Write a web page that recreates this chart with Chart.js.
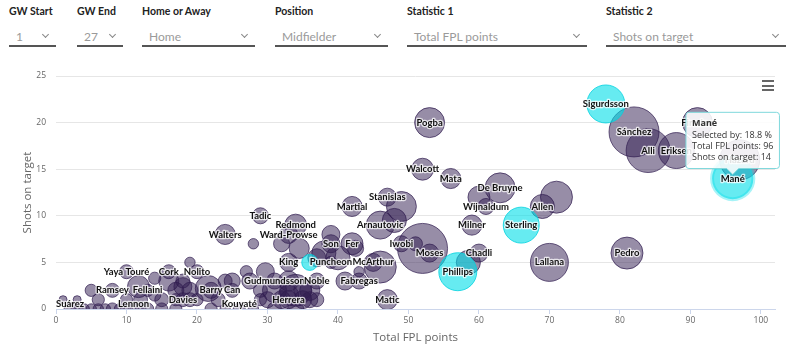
<!DOCTYPE html>
<html>
<head>
<meta charset="utf-8">
<script src="https://cdn.jsdelivr.net/npm/chart.js@4.4.1/dist/chart.umd.min.js"></script>
<style>
  body { margin: 0; background: #fff; font-family: Lato, "Open Sans", sans-serif; }
  #wrap { position: relative; width: 800px; height: 360px; overflow: hidden; }
  .ctl { position: absolute; top: 0; }
  .ctl .lbl { position: absolute; top: 5px; left: 0; font-size: 10.5px; font-weight: bold; color: #222; white-space: nowrap; }
  .ctl .sel { position: absolute; top: 28px; left: 0; right: 0; height: 17px; border-bottom: 2px solid #555; }
  .ctl .val { position: absolute; left: 7px; top: 1px; font-size: 12px; color: #9a9a9a; white-space: nowrap; }
  .ctl .chev { position: absolute; right: 8px; top: 4px; width: 4px; height: 4px;
               border-right: 1px solid #888; border-bottom: 1px solid #888; transform: rotate(45deg); }
  #menu { position: absolute; left: 762px; top: 80px; width: 12px; }
  #menu div { height: 2px; background: #666; margin-bottom: 2.5px; }
  canvas { position: absolute; left: 0; top: 60px; }
</style>
</head>
<body>
<div id="wrap">
  <div id="controls"></div>
  <div id="menu"><div></div><div></div><div></div></div>
  <canvas id="bubbleChart" width="800" height="300"></canvas>
</div>
<script>
// dropdowns above the chart
const controlLabels = ['GW Start', 'GW End', 'Home or Away', 'Position', 'Statistic 1', 'Statistic 2'];
const controlValues = ['1', '27', 'Home', 'Midfielder', 'Total FPL points', 'Shots on target'];
const controlLeft = [9, 77, 142, 275, 407, 606];
const controlWidth = [47, 46, 113, 113, 180, 180];

// players (x = total FPL points, y = shots on target, selected by %)
const names = [
  'Suárez', 'Ramsey', 'Yaya Touré', 'Lennon', 'Fellaini', 'Cork', 'Nolito', 'Davies', 'Barry', 'Can',
  'Kouyaté', 'Gudmundsson', 'Noble', 'Herrera', 'King', 'Puncheon', 'Walters', 'Tadic', 'Redmond', 'Ward-Prowse',
  'Son', 'Fer', 'Martial', 'Stanislas', 'Arnautovic', 'McArthur', 'Fabregas', 'Matic', 'Iwobi', 'Moses',
  'Pogba', 'Walcott', 'Mata', 'De Bruyne', 'Wijnaldum', 'Milner', 'Chadli', 'Allen', 'Lallana', 'Pedro',
  'Sánchez', 'Alli', 'Eriksen', 'Firmino', 'Hazard',
  '', '', '', '', '', '', '', '', '', '',
  '', '', '', '', '', '', '', '', '', '',
  '', '', '', '', '', '', '', '', '', '',
  '', '', '', '', '', '', '', '', '', '',
  '', '', '', '', '', '', '', '', '', '',
  '', '', '', '', '', '', '', '', '',
  '', '', '', '', '', '', '', '', '', '',
  '', '', '', '', '',
  'Phillips', 'Sterling', 'Sigurdsson', 'Mané', ''
];
const points = [
  2, 8, 10, 11, 13, 16, 20, 18, 22, 25,
  26, 31, 37, 33, 33, 39, 24, 29, 34, 33,
  39, 42, 42, 47, 46, 45, 43, 47, 49, 53,
  53, 52, 56, 63, 61, 59, 60, 69, 70, 81,
  82, 84, 88, 91, 97,
  52, 49, 48, 51, 60, 71, 58.5, 46, 41, 43,
  39, 42.5, 38, 37, 28, 32, 34.5, 27, 25, 27.5,
  29.7, 31, 34, 33, 35, 30, 36, 37, 29, 18,
  17, 19, 16, 18, 17, 20, 21.6, 23, 24, 11.7,
  12, 14, 10, 13, 15, 14, 5, 1, 3, 4,
  6, 7, 9, 19, 22, 24, 28, 29, 40,
  3, 5, 8, 10, 12, 15, 17, 19, 31, 32,
  34, 35, 36, 33, 6,
  57, 66, 78, 96, 36
];
const shots = [
  0, 2, 4, 0, 2, 4, 4, 1, 2, 2,
  0, 3, 3, 1, 5, 5, 8, 10, 9, 8,
  7, 7, 11, 12, 9, 5, 3, 1, 7, 6,
  20, 15, 14, 13, 11, 9, 6, 11, 5, 6,
  19, 17, 17, 20, 16,
  6.5, 11, 9.5, 7, 12, 12, 5, 4.5, 3, 4,
  8, 6.5, 6, 5.5, 7, 7, 6.5, 4, 3, 3,
  4, 2, 2, 1.5, 1, 1, 2, 1, 2, 2.4,
  2, 2, 3, 3, 1, 1, 2.2, 1, 3, 2.4,
  1, 3.3, 1, 0, 1, 1.5, 2, 1, 1, 0,
  0, 0, 0, 5, 0, 0, 0, 1, 5.5,
  0, 0, 0, 0, 0, 0, 0, 1, 0, 1,
  0, 2, 1, 3, 1,
  4, 9, 22, 14, 5
];
const selectedBy = [
  0.3, 0.6, 0.6, 0.1, 0.3, 0.6, 0.6, 0.6, 1.1, 0.6,
  0.3, 1.1, 1.1, 1.7, 1.7, 0.3, 2.5, 1.1, 3.3, 1.7,
  1.7, 3.3, 2.5, 1.7, 6.8, 1.7, 1.1, 2.5, 1.1, 1.7,
  8.2, 3.3, 2.5, 8.2, 1.1, 2.5, 1.7, 4.4, 15.3, 9.8,
  30.0, 22.0, 13.3, 8.2, 17.4,
  30.0, 8.2, 4.4, 0.6, 3.3, 9.8, 4.4, 9.8, 1.7, 0.1,
  1.7, 1.1, 4.4, 1.7, 0.1, 1.1, 2.5, 0.3, 1.1, 1.1,
  1.7, 4.4, 9.8, 2.5, 1.7, 1.1, 2.5, 0.6, 0.6, 1.7,
  1.1, 1.1, 2.5, 0.6, 0.3, 0.3, 5.5, 0.6, 0.6, 3.3,
  0.6, 0.3, 0.3, 0.3, 0.6, 0.3, 0.3, 0.0, 0.0, 0.1,
  0.1, 0.1, 0.1, 0.1, 0.3, 0.1, 0.1, 0.3, 4.4,
  0.3, 0.1, 0.3, 0.3, 0.1, 0.3, 0.3, 0.6, 0.6, 1.7,
  1.1, 1.7, 1.1, 2.5, 0.3,
  15.3, 13.3, 15.3, 18.8, 1.1
];
const highlighted = names.map((n, i) => i >= names.length - 5);

const xTicksMax = 102;
const yTicksMax = 25;

// build controls
const controls = document.getElementById('controls');
controlLabels.forEach((label, i) => {
  const div = document.createElement('div');
  div.className = 'ctl';
  div.style.left = controlLeft[i] + 'px';
  div.style.width = controlWidth[i] + 'px';
  div.innerHTML = `<div class="lbl">${label}</div>
    <div class="sel"><span class="val">${controlValues[i]}</span><span class="chev"></span></div>`;
  controls.appendChild(div);
});

// bubble size like highcharts: area scales with selected by %
function bubbleRadius(sel) {
  return 4 + 21 * Math.sqrt(sel / 30);
}

const normalData = [];
const hlData = [];
names.forEach((name, i) => {
  const d = { x: points[i], y: shots[i], r: bubbleRadius(selectedBy[i]), name: name, sel: selectedBy[i] };
  (highlighted[i] ? hlData : normalData).push(d);
});

const nameLabels = {
  id: 'nameLabels',
  afterDatasetsDraw(chart) {
    const ctx = chart.ctx;
    const bottom = chart.chartArea.bottom;
    ctx.save();
    ctx.font = 'bold 9.5px Lato';
    ctx.textAlign = 'center';
    ctx.textBaseline = 'middle';
    ctx.lineJoin = 'round';
    chart.data.datasets.forEach((ds, i) => {
      chart.getDatasetMeta(i).data.forEach((el, j) => {
        const name = ds.data[j].name;
        if (!name) return;
        const y = Math.min(el.y, bottom - 5);
        ctx.strokeStyle = 'rgba(255,255,255,0.75)';
        ctx.lineWidth = 2.5;
        ctx.strokeText(name, el.x, y);
        ctx.fillStyle = '#111';
        ctx.fillText(name, el.x, y);
      });
    });
    ctx.restore();
  }
};

const ctx = document.getElementById('bubbleChart').getContext('2d');

// first dataset is drawn last, so the cyan ones sit on top
const chart = new Chart(ctx, {
  type: 'bubble',
  data: {
    datasets: [
      {
        data: hlData,
        backgroundColor: 'rgba(0, 222, 232, 0.6)',
        borderColor: 'rgba(0, 210, 222, 0.8)',
        borderWidth: 1,
        hoverRadius: 0,
        hoverBackgroundColor: 'rgba(0, 222, 232, 0.6)',
        hoverBorderColor: 'rgba(0, 222, 232, 0.35)',
        hoverBorderWidth: 4,
        clip: { left: 10, top: 10, right: 10, bottom: 0 }
      },
      {
        data: normalData,
        backgroundColor: 'rgba(48, 28, 80, 0.5)',
        borderColor: 'rgba(48, 28, 80, 0.7)',
        borderWidth: 1,
        hoverRadius: 0,
        clip: { left: 10, top: 10, right: 10, bottom: 0 }
      }
    ]
  },
  options: {
    responsive: false,
    animation: false,
    events: [],
    layout: { autoPadding: false, padding: { top: 16, right: 25, left: 0, bottom: 0 } },
    plugins: {
      legend: { display: false },
      tooltip: {
        xAlign: 'center',
        yAlign: 'bottom',
        backgroundColor: 'rgba(255, 255, 255, 0.88)',
        borderColor: '#7fd8dc',
        borderWidth: 1,
        cornerRadius: 3,
        caretSize: 6,
        caretPadding: 4,
        padding: { x: 6, y: 6 },
        displayColors: false,
        titleColor: '#333',
        titleFont: { family: 'Open Sans', size: 9, weight: 'bold' },
        titleMarginBottom: 1,
        bodyColor: '#333',
        bodyFont: { family: 'Open Sans', size: 9 },
        bodySpacing: 0,
        callbacks: {
          title: items => items[0].raw.name,
          label: item => [
            'Selected by: ' + item.raw.sel + ' %',
            'Total FPL points: ' + item.raw.x,
            'Shots on target: ' + item.raw.y
          ]
        }
      }
    },
    scales: {
      x: {
        type: 'linear',
        min: 0,
        max: xTicksMax,
        afterFit: scale => { scale.height = 51; },
        grid: { drawOnChartArea: false, drawTicks: true, tickLength: 5, color: '#ccd6eb' },
        border: { color: '#ccd6eb' },
        ticks: { stepSize: 10, includeBounds: false, padding: 1, color: '#666', font: { family: 'Open Sans', size: 8.5 } },
        title: { display: true, text: 'Total FPL points', color: '#666', padding: { top: 0, bottom: 15 },
                 font: { family: 'Open Sans', size: 11.5 } }
      },
      y: {
        min: 0,
        max: yTicksMax,
        afterFit: scale => { scale.width = 56; },
        grid: { color: '#e6e6e6', drawTicks: false },
        border: { display: false },
        ticks: { stepSize: 5, padding: 10, color: '#666', font: { family: 'Open Sans', size: 8.5 } },
        title: { display: true, text: 'Shots on target', color: '#666', padding: { top: 21, bottom: 0 },
                 font: { family: 'Open Sans', size: 11.5 } }
      }
    }
  },
  plugins: [nameLabels]
});

// show the tooltip for Mané like in the screenshot
const maneIdx = hlData.findIndex(d => d.name === 'Mané');
chart.setActiveElements([{ datasetIndex: 0, index: maneIdx }]);
chart.tooltip.setActiveElements([{ datasetIndex: 0, index: maneIdx }], { x: 0, y: 0 });
chart.update();
</script>
</body>
</html>
